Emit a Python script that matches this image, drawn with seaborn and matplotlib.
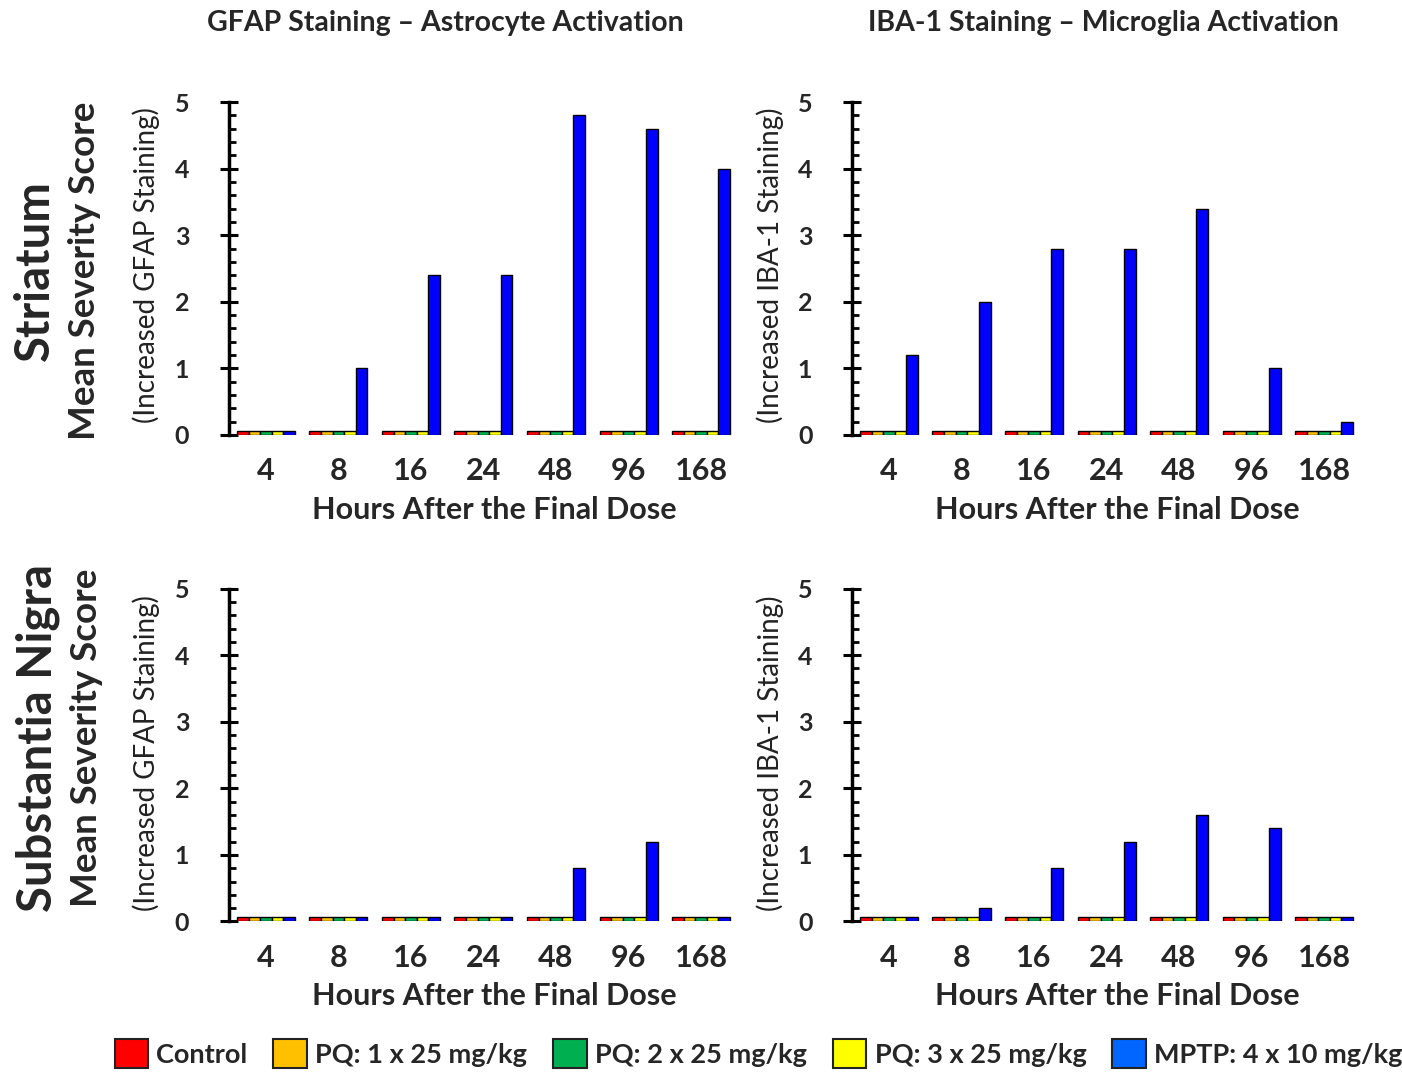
import matplotlib
matplotlib.use('Agg')
import matplotlib.pyplot as plt
import seaborn as sns
import pandas as pd
from matplotlib.ticker import MultipleLocator
from matplotlib.patches import Patch

hours = ['4', '8', '16', '24', '48', '96', '168']
groups = ['Control', 'PQ: 1 x 25 mg/kg', 'PQ: 2 x 25 mg/kg', 'PQ: 3 x 25 mg/kg', 'MPTP: 4 x 10 mg/kg']

# zero scores are drawn as thin bars in the original
control = [0.06, 0.06, 0.06, 0.06, 0.06, 0.06, 0.06]
pq1 = [0.06, 0.06, 0.06, 0.06, 0.06, 0.06, 0.06]
pq2 = [0.06, 0.06, 0.06, 0.06, 0.06, 0.06, 0.06]
pq3 = [0.06, 0.06, 0.06, 0.06, 0.06, 0.06, 0.06]
striatum_gfap_mptp = [0.06, 1.0, 2.4, 2.4, 4.8, 4.6, 4.0]
striatum_iba_mptp = [1.2, 2.0, 2.8, 2.8, 3.4, 1.0, 0.2]
sn_gfap_mptp = [0.06, 0.06, 0.06, 0.06, 0.8, 1.2, 0.06]
sn_iba_mptp = [0.06, 0.2, 0.8, 1.2, 1.6, 1.4, 0.06]

bar_colors = ['#FF0000', '#FFC000', '#00B050', '#FFFF00', '#0000FF']
legend_colors = ['#FF0000', '#FFC000', '#00B050', '#FFFF00', '#0066FF']

sns.set_theme(style='white')
plt.rcParams['font.family'] = ['Lato', 'DejaVu Sans']

def make_df(mptp):
    rows = []
    for g, vals in zip(groups, [control, pq1, pq2, pq3, mptp]):
        for h, v in zip(hours, vals):
            rows.append({'hour': h, 'group': g, 'score': v})
    return pd.DataFrame(rows)

fig = plt.figure(figsize=(14.02, 10.74), dpi=100)
W = 0.36
positions = {
    (0, 0): [0.1633, 0.5950, W, 0.3100],
    (0, 1): [0.6077, 0.5950, W, 0.3100],
    (1, 0): [0.1633, 0.1420, W, 0.3100],
    (1, 1): [0.6077, 0.1420, W, 0.3100],
}
data = {
    (0, 0): striatum_gfap_mptp,
    (0, 1): striatum_iba_mptp,
    (1, 0): sn_gfap_mptp,
    (1, 1): sn_iba_mptp,
}

for key, pos in positions.items():
    ax = fig.add_axes(pos)
    df = make_df(data[key])
    sns.barplot(data=df, x='hour', y='score', hue='group', order=hours,
                hue_order=groups, palette=bar_colors, width=0.8, saturation=1,
                edgecolor='black', linewidth=1.0, errorbar=None,
                legend=False, ax=ax)
    ax.set_xlim(-0.51, 6.45)
    ax.set_ylim(0, 5)
    for s in ['top', 'right', 'bottom']:
        ax.spines[s].set_visible(False)
    ax.spines['left'].set_linewidth(2.5)
    ax.spines['left'].set_color('black')
    ax.yaxis.set_major_locator(MultipleLocator(1))
    ax.yaxis.set_minor_locator(MultipleLocator(0.2))
    ax.tick_params(axis='y', which='major', direction='inout', length=13,
                   width=2.2, color='black', labelsize=18, pad=22, left=True)
    ax.tick_params(axis='y', which='minor', direction='in', length=5,
                   width=2.0, color='black', left=True)
    ax.tick_params(axis='x', length=0, labelsize=22, pad=16)
    for lab in ax.get_yticklabels():
        lab.set_fontweight('bold')
    for lab in ax.get_xticklabels():
        lab.set_fontweight('bold')
    ax.set_xlabel('Hours After the Final Dose', fontsize=22, fontweight='bold', labelpad=8)
    ax.xaxis.set_label_coords(0.526, -0.183)
    ax.set_ylabel('')
    ax.grid(False)

# column titles
fig.text(0.3175, 0.979, 'GFAP Staining \u2013 Astrocyte Activation', ha='center', va='center',
         fontsize=20.5, fontweight='bold')
fig.text(0.787, 0.979, 'IBA-1 Staining \u2013 Microglia Activation', ha='center', va='center',
         fontsize=20.5, fontweight='bold')

# row labels
fig.text(0.025, 0.748, 'Striatum', rotation=90, ha='center', va='center', fontsize=34, fontweight='bold')
fig.text(0.060, 0.748, 'Mean Severity Score', rotation=90, ha='center', va='center', fontsize=26.5, fontweight='bold')
fig.text(0.027, 0.313, 'Substantia Nigra', rotation=90, ha='center', va='center', fontsize=34, fontweight='bold')
fig.text(0.062, 0.313, 'Mean Severity Score', rotation=90, ha='center', va='center', fontsize=26.5, fontweight='bold')

for yc in [0.753, 0.299]:
    fig.text(0.104, yc, '(Increased GFAP Staining)', rotation=90, ha='center', va='center',
             fontsize=20, fontweight='normal', color='#222222')
    fig.text(0.549, yc, '(Increased IBA-1 Staining)', rotation=90, ha='center', va='center',
             fontsize=20, fontweight='normal', color='#222222')

handles = [Patch(facecolor=c, edgecolor='#222222', linewidth=1.5) for c in legend_colors]
fig.legend(handles, groups, loc='center', bbox_to_anchor=(0.541, 0.019), ncol=5,
           frameon=False, prop={'size': 19.5, 'weight': 'bold'},
           handlelength=1.25, handleheight=1.25, handletextpad=0.3, columnspacing=0.95)

fig.savefig('out.png', dpi=100)
